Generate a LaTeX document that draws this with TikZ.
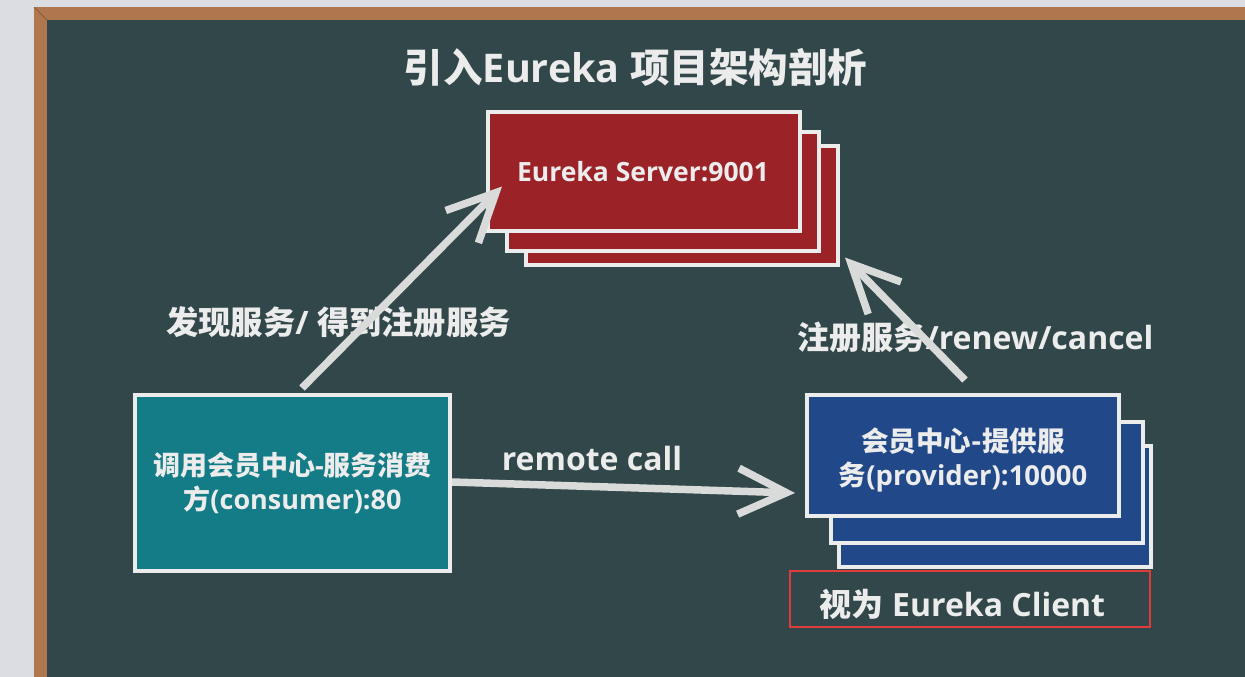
\documentclass[tikz,border=0pt]{standalone}
\usepackage{fontspec}
\setmainfont{Open Sans}
\newfontfamily\cjk{Noto Sans CJK SC}
\newcommand\zh[1]{{\cjk #1}}
\newcommand\lowr[2]{\raisebox{-#1}[\height][\depth]{#2}}
\usetikzlibrary{arrows.meta}
\definecolor{wall}{HTML}{DCDDE2}
\definecolor{wood}{HTML}{B0774F}
\definecolor{board}{HTML}{31474A}
\definecolor{chalk}{HTML}{ECECEC}
\definecolor{arrowc}{HTML}{D9DADA}
\definecolor{srvred}{HTML}{9B2328}
\definecolor{provblue}{HTML}{21498A}
\definecolor{consteal}{HTML}{137C86}
\definecolor{mark}{HTML}{E23B3B}
\tikzset{
  card/.style={draw=chalk, line width=4pt, minimum width=312pt, minimum height=119pt, inner sep=0pt},
  srvbox/.style={card, fill=srvred},
  provbox/.style={card, fill=provblue, minimum height=121pt},
  lbl/.style={text=chalk, font=\bfseries, inner sep=0pt},
  arr/.style={draw=arrowc, line width=7.5pt, -{Straight Barb[length=48pt, width=46pt]}},
}
\begin{document}
\begin{tikzpicture}[x=1pt,y=-1pt]
\useasboundingbox (0,0) rectangle (1245,677);
% wall, frame, board
\fill[wall] (0,0) rectangle (1245,677);
\fill[wood] (34,7) rectangle (1245,677);
\fill[board] (47,20) rectangle (1245,677);
\draw[wood!70!black, line width=0.6pt] (34,7) -- (47,20);
% title
\node[lbl, font=\fontsize{39.5}{44}\selectfont\bfseries] (title) at (635.5,67) {\zh{引入}Eureka \zh{项目架构剖析}};
% server stack
\node[srvbox] (srv3) at (682,205) {};
\node[srvbox] (srv2) at (663,191) {};
\node[srvbox] (srv1) at (644,171) {};
\node[lbl, font=\fontsize{26.5}{30}\selectfont\bfseries] (srvtxt) at (643,172) {Eureka Server:9001};
% provider stack
\node[provbox] (prov3) at (995,506) {};
\node[provbox] (prov2) at (987,482) {};
\node[provbox, align=center, text=chalk, font=\fontsize{27.5}{34}\selectfont\bfseries] (prov1) at (963,455.5) {\lowr{4pt}{\zh{会员中心-提供服}}\\\lowr{4pt}{\zh{务}(provider):10000}};
% consumer
\node[card, fill=consteal, minimum width=315pt, minimum height=176pt, align=center, text=chalk, font=\fontsize{27}{34}\selectfont\bfseries] (cons) at (292.5,483) {\zh{调用会员中心}-\zh{服务消费}\\\zh{方}(consumer):80};
% client annotation
\node[draw=mark, line width=2pt, minimum width=360pt, minimum height=56pt, inner sep=0pt, text=chalk, font=\fontsize{32}{36}\selectfont\bfseries] (client) at (970,599) {\lowr{5pt}{\zh{视为} Eureka Client}\kern15pt};
% labels
\node[lbl, font=\fontsize{32.3}{38}\selectfont\bfseries] (l1) at (338.5,322) {\zh{发现服务}/ \zh{得到注册服务}};
\node[lbl, font=\fontsize{32}{36}\selectfont\bfseries] (l2) at (975.5,337) {\zh{注册服务}/renew/cancel};
\node[lbl, font=\fontsize{32}{36}\selectfont\bfseries] (l3) at (592,458) {remote call};
% arrows
\draw[arr] ([xshift=9.5pt,yshift=5pt]cons.north) -- ([xshift=16pt,yshift=46pt]srv1.south west);
\draw[arr] ([yshift=1pt]cons.east) -- ([xshift=-10pt,yshift=-37.5pt]prov1.west);
\draw[arr] ([xshift=2pt,yshift=13pt]prov1.north) -- ([xshift=5pt,yshift=9pt]srv3.south east);
\end{tikzpicture}
\end{document}
